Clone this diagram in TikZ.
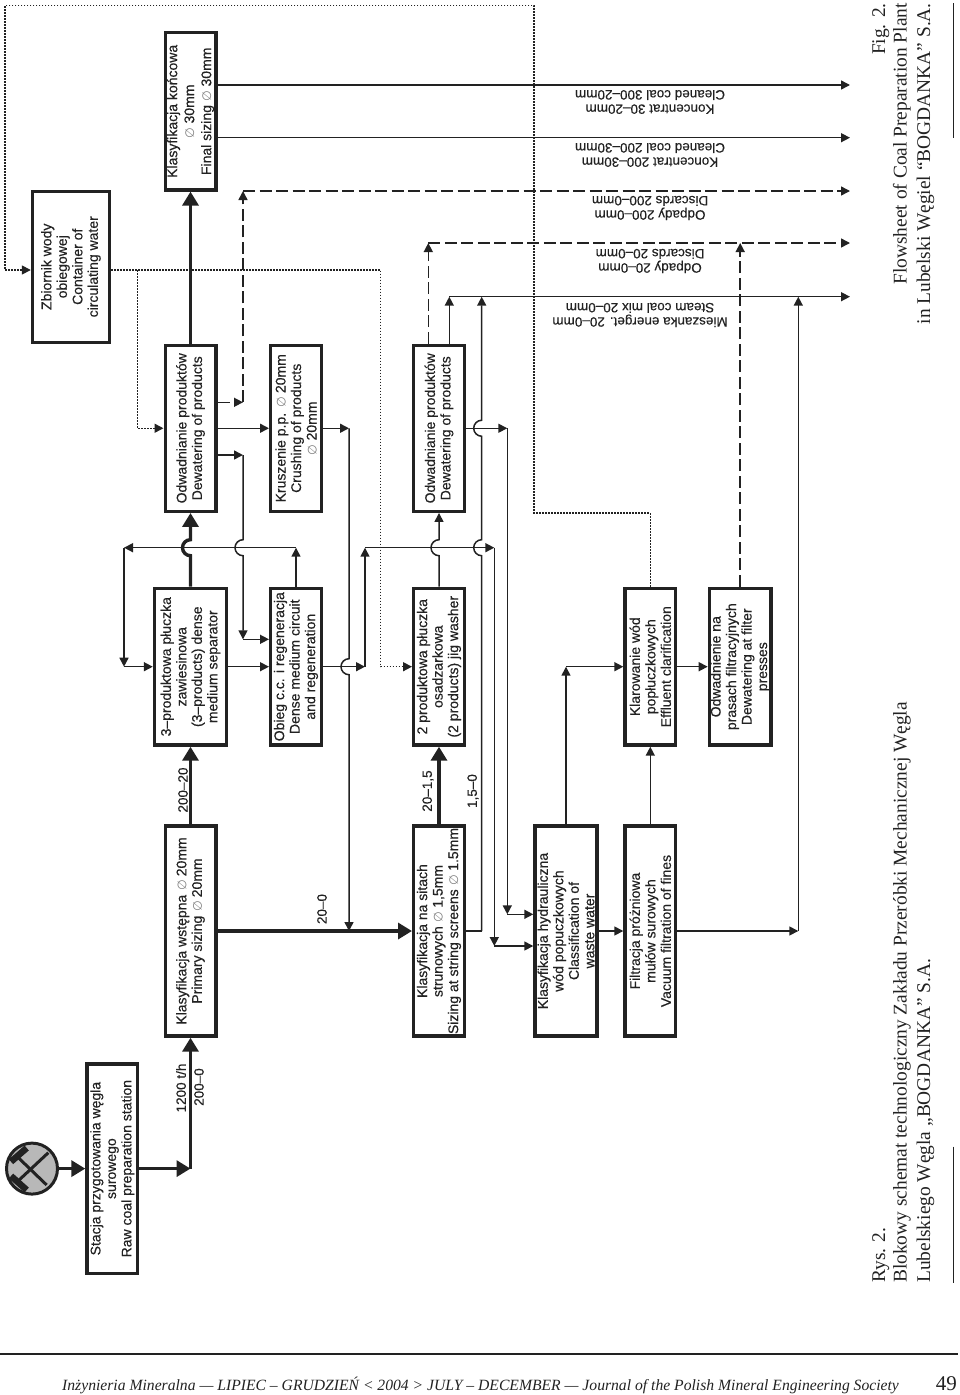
\documentclass[tikz,border=0pt]{standalone}
\usepackage{fontspec}
\setmainfont{Liberation Serif}
\newfontfamily\boxfont[FakeBold=0.35]{Liberation Sans}
\newfontfamily\symfont[Scale=0.88]{DejaVu Sans}
\usetikzlibrary{arrows.meta}
\definecolor{cc}{RGB}{34, 34, 34}
\newcommand{\dia}{{\symfont\color{gray}∅}}

\begin{document}
\begin{tikzpicture}[x=1pt, y=-1pt, color=cc,
box/.style 2 args={draw=cc, line width=3.4pt, rotate=90, align=center, inner sep=0pt, text=cc, minimum width=#1pt, minimum height=#2pt, font=\boxfont\fontsize{14}{15.5}\selectfont},
label/.style={rotate=90, inner sep=0pt, text=cc, font=\boxfont\fontsize{13.5}{14.5}\selectfont},
outlabel/.style={rotate=180, align=center, inner sep=0pt, text=cc, font=\boxfont\fontsize{13.5}{14.3}\selectfont},
caption/.style={rotate=90, inner sep=0pt, text=cc, font=\fontsize{19.4}{20}\selectfont},
bigarrow/.style={line width=3.4pt, -{Triangle[width=16pt, length=14pt]}},
arrow/.style={line width=1.5pt, -{Triangle[width=9pt, length=9pt]}},
dasharrow/.style={line width=1.5pt, dash pattern=on 12pt off 4.5pt, -{Triangle[width=9pt, length=9pt]}},
dotarrow/.style={line width=1.5pt, dash pattern=on 1.6pt off 1.4pt, -{Triangle[width=9pt, length=9pt]}},
hammer/.style={line width=3pt}, hammerhead/.style={line width=6.5pt}]
\useasboundingbox (0, 0) rectangle (960, 1395);
\node (zbi) [box={151}{77}] at (71, 266.75) {Zbiornik wody\\obiegowej\\Container of\\circulating water};
\node (kon) [box={157.2}{50.6}] at (190.5, 111.3) {Klasyfikacja końcowa\\[1.5pt]\dia{} 30mm\\[1.5pt]Final sizing \dia{} 30mm};
\node (odw1) [box={166}{50.6}] at (190.5, 428.25) {Odwadnianie produktów\\Dewatering of products};
\node (kru) [box={166}{50.6}] at (296, 428.25) {Kruszenie p.p. \dia{} 20mm\\Crushing of products\\\dia{} 20mm};
\node (odw2) [box={166}{50.6}] at (439, 428.25) {Odwadnianie produktów\\Dewatering of products};
\node (trzy) [box={156.6}{72}] at (190.5, 666.7) {3–produktowa płuczka\\zawiesinowa\\(3–products) dense\\medium separator};
\node (obieg) [box={156.6}{50.6}] at (296, 666.7) {Obieg c.c. i regeneracja\\Dense medium circuit\\and regeneration};
\node (dwa) [box={156.6}{50.6}] at (439, 666.7) {2 produktowa płuczka\\osadzarkowa\\(2 products) jig washer};
\node (klar) [box={156.6}{50.6}] at (650.3, 666.7) {Klarowanie wód\\popłuczkowych\\Effluent clarification};
\node (pras) [box={156.6}{61.6}] at (740.2, 666.7) {Odwadnienie na\\prasach filtracyjnych\\Dewatering at filter\\presses};
\node (wst) [box={210}{50.6}] at (190.5, 931) {Klasyfikacja wstępna \dia{} 20mm\\Primary sizing \dia{} 20mm};
\node (sit) [box={210}{50.6}] at (439, 931) {Klasyfikacja na sitach\\strunowych \dia{} 1,5mm\\Sizing at string screens \dia{} 1.5mm};
\node (hyd) [box={210}{62}] at (566, 931) {Klasyfikacja hydrauliczna\\wód popuczkowych\\Classification of\\waste water};
\node (fil) [box={210}{50.6}] at (650.3, 931) {Filtracja próżniowa\\mułów surowych\\Vacuum filtration of fines};
\node (sta) [box={209.3}{50.6}] at (112.3, 1168.6) {Stacja przygotowania węgla\\surowego\\Raw coal preparation station};
\node (ham) [circle, draw=cc, fill=black!28, line width=3pt, minimum size=51pt, inner sep=0pt] at (32, 1168.6) {};
\draw [hammer] (17.3, 1156.7) -- (46.7, 1185);
\draw [hammer] (48.3, 1152.7) -- (17.3, 1181.7);
\draw [hammerhead] (11, 1161.7) -- (26.7, 1148);
\draw [hammerhead] (11, 1176) -- (26.7, 1190);
\coordinate (e1) at (850, 85);
\coordinate (e2) at (850, 137.7);
\coordinate (e3) at (850, 191);
\coordinate (e4) at (850, 243);
\coordinate (e5) at (850, 296.7);
\coordinate (a1) at (190.5, 1168.6);
\coordinate (d1) at (243, 402.3);
\coordinate (d2) at (243, 191);
\coordinate (k1) at (243, 455);
\coordinate (k2) at (243, 639.3);
\coordinate (k3) at (349, 428.25);
\coordinate (k4) at (349, 931);
\coordinate (r1) at (296, 547.7);
\coordinate (r2) at (124, 547.7);
\coordinate (r3) at (124, 666.7);
\coordinate (s1) at (365, 666.7);
\coordinate (s2) at (365, 547.7);
\coordinate (s3) at (494.3, 547.7);
\coordinate (s4) at (494.3, 946);
\coordinate (t1) at (428.3, 243);
\coordinate (t2) at (449.3, 296.7);
\coordinate (t3) at (507.3, 428.25);
\coordinate (t4) at (507.3, 914.3);
\coordinate (u1) at (481.7, 931);
\coordinate (u2) at (481.7, 296.7);
\coordinate (v1) at (566, 666.7);
\coordinate (w1) at (798.3, 931);
\coordinate (w2) at (798.3, 296.7);
\coordinate (x1) at (740.2, 243);
\coordinate (f1) at (650.3, 513);
\coordinate (f2) at (534, 513);
\coordinate (f3) at (534, 5.7);
\coordinate (f4) at (5, 5.7);
\coordinate (f5) at (5, 270);
\coordinate (g1) at (380.7, 270);
\coordinate (g2) at (137.3, 270);
\coordinate (g3) at (137.3, 428.25);
\coordinate (g4) at (380.7, 666.7);
\draw [bigarrow] (ham) to (sta);
\draw [bigarrow] (sta) to (a1);
\draw [bigarrow] (a1) to (wst.west);
\draw [bigarrow] (wst) to (trzy);
\draw [bigarrow] (trzy.east) -- (190.5, 555.7) arc[start angle=90, end angle=270, radius=8] -- (odw1.west);
\draw [bigarrow] (odw1) to (kon);
\draw [bigarrow] (wst) to (sit);
\draw [bigarrow] (sit) to (dwa);
\draw [arrow] (kon.south |- e1) to (e1);
\draw [arrow] (kon.south |- e2) to (e2);
\draw [dasharrow] (odw1.south |- d1) to (d1);
\draw [dasharrow] (d1) to (d2);
\draw [dasharrow] (d2) to (e3);
\draw [arrow] (odw1) to (kru);
\draw [arrow] (odw1.south |- k1) to (k1);
\draw [arrow] (k1) -- (243, 539.7) arc[start angle=270, end angle=90, radius=8] -- (k2);
\draw [arrow] (k2) to (obieg.north |- k2);
\draw [arrow] (kru) to (k3);
\draw [arrow] (k3) -- (349, 658.7) arc[start angle=270, end angle=90, radius=8] -- (k4);
\draw [arrow] (dwa.east) -- (439, 555.7) arc[start angle=90, end angle=270, radius=8] -- (odw2.west);
\draw [arrow] (obieg) to (r1);
\draw [arrow] (r1) to (r2);
\draw [arrow] (r2) to (r3);
\draw [arrow] (r3) to (trzy);
\draw [arrow] (trzy) to (obieg);
\draw [arrow] (obieg) to (s1);
\draw [arrow] (s1) to (s2);
\draw [arrow] (s2) to (s3);
\draw [arrow] (s3) to (s4);
\draw [arrow] (s4) to (hyd.north |- s4);
\draw [dasharrow] (odw2.east -| t1) to (t1);
\draw [dasharrow] (t1) to (e4);
\draw [arrow] (odw2.east -| t2) to (t2);
\draw [arrow] (t2) to (e5);
\draw [arrow] (odw2) to (t3);
\draw [arrow] (t3) to (t4);
\draw [arrow] (t4) to (hyd.north |- t4);
\draw [line width=1.5pt] (sit) to (u1);
\draw [arrow] (u1) -- (481.7, 555.7) arc[start angle=90, end angle=270, radius=8] -- (481.7, 436.25) arc[start angle=90, end angle=270, radius=8] -- (u2);
\draw [arrow] (hyd) to (fil);
\draw [arrow] (hyd) to (v1);
\draw [arrow] (v1) to (klar);
\draw [arrow] (fil) to (klar);
\draw [arrow] (klar) to (pras);
\draw [arrow] (fil) to (w1);
\draw [arrow] (w1) to (w2);
\draw [dasharrow] (pras) to (x1);
\draw [dotarrow] (klar) -- (f1) -- (f2) -- (f3) -- (f4) -- (f5) -- (zbi.north |- f5);
\draw [dotarrow] (zbi.south |- g1) -- (g1) -- (g4) -- (dwa);
\draw [dotarrow] (g2) -- (g3) -- (odw1);
\node (l1) [label] at (181, 1088) {1200 t/h};
\node (l2) [label] at (199, 1087) {200–0};
\node (l3) [label] at (183, 790) {200–20};
\node (l4) [label] at (322, 909) {20–0};
\node (l5) [label] at (428, 791) {20–1,5};
\node (l6) [label] at (473, 791) {1,5–0};
\node (o1) [outlabel] at (650, 102) {Koncentrat 30–20mm\\Cleaned coal 300–20mm};
\node (o2) [outlabel] at (650, 155) {Koncentrat 200–30mm\\Cleaned coal 200–30mm};
\node (o3) [outlabel] at (650, 208) {Odpady 200–0mm\\Discards 200–0mm};
\node (o4) [outlabel] at (650, 261) {Odpady 20–0mm\\Discards 20–0mm};
\node (o5) [outlabel] at (640, 315) {Mieszanka energet. 20–0mm\\Steam coal mix 20–0mm};
\node (c1) [caption, anchor=base west] at (885, 1283) {Rys. 2.};
\node (c2) [caption, anchor=base west] at (906.7, 1283) {Blokowy schemat technologiczny Zakładu Przeróbki Mechanicznej Węgla};
\node (c3) [caption, anchor=base west] at (930, 1283) {Lubelskiego Węgla „BOGDANKA” S.A.};
\node (c4) [caption, anchor=base east] at (885, 3) {Fig. 2.};
\node (c5) [caption, anchor=base east] at (906.7, 3) {Flowsheet of Coal Preparation Plant};
\node (c6) [caption, anchor=base east] at (930, 3) {in Lubelski Węgiel “BOGDANKA” S.A.};
\draw [line width=0.8pt] (953.3, 1146.7) -- (953.3, 1283);
\draw [line width=0.8pt] (953.3, 3) -- (953.3, 137.5);
\draw [line width=2pt] (0, 1354.3) -- (958, 1354.3);
\node (foot) [anchor=base west, inner sep=0pt, text=cc, font=\itshape\fontsize{15.65}{18}\selectfont] at (62, 1390) {Inżynieria Mineralna — LIPIEC – GRUDZIEŃ < 2004 > JULY – DECEMBER — Journal of the Polish Mineral Engineering Society};
\node (page) [anchor=base east, inner sep=0pt, text=cc, font=\fontsize{21}{21}\selectfont] at (957, 1390) {49};
\end{tikzpicture}
\end{document}
